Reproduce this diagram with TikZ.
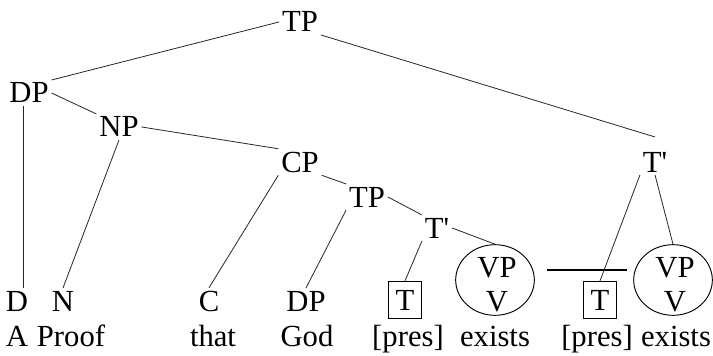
\documentclass[tikz,border=0pt]{standalone}
\usepackage{fontspec}
\setmainfont{Liberation Serif}
\usetikzlibrary{shapes.geometric}
\begin{document}
\begin{tikzpicture}[x=0.75pt,y=-0.75pt,
  lab/.style={font=\fontsize{23}{27}\selectfont, inner sep=2pt, anchor=base},
  edge/.style={line width=0.6pt, draw=black!85},
  tbox/.style={font=\fontsize{23}{27}\selectfont, draw, line width=0.7pt, minimum width=25pt, minimum height=28pt, inner sep=0pt},
  oval/.style={ellipse, draw, line width=0.7pt, minimum width=59pt, minimum height=53pt, inner sep=0pt}]
\useasboundingbox (0,0) rectangle (713,356);
% internal nodes
\node[lab] (TPa) at (300,32) {TP};
\node[lab] (DPa) at (29,103) {DP};
\node[lab] (NP) at (119,137) {NP};
\node[lab] (CP) at (300,172) {CP};
\node[lab] (TPb) at (367,207) {TP};
\node[lab] (Tba) at (437,238) {T\textquotesingle};
\node[lab] (Tbb) at (655,172) {T\textquotesingle};
% leaves row 1
\node[lab] (D) at (17,311) {D};
\node[lab] (N) at (63,311) {N};
\node[lab] (C) at (209,311) {C};
\node[lab] (DPc) at (306,311) {DP};
\node[tbox] (Ta) at (405,300) {T};
\node[tbox] (Tb) at (600,300) {T};
\node[oval] (Oa) at (495,280) {};
\node[oval] (Ob) at (673,280) {};
\node[lab] (VPa) at (497,277) {VP};
\node[lab] (Va) at (497,311) {V};
\node[lab] (VPb) at (675,277) {VP};
\node[lab] (Vb) at (675,311) {V};
% words
\node[lab] (wA) at (17,346) {A};
\node[lab] (wProof) at (71,346) {Proof};
\node[lab] (wthat) at (213,346) {that};
\node[lab] (wGod) at (307,346) {God};
\node[lab] (wpa) at (408,346) {[pres]};
\node[lab] (wea) at (495,346) {exists};
\node[lab] (wpb) at (597,346) {[pres]};
\node[lab] (web) at (676,346) {exists};
% connectors
\draw[edge] (TPa.west) -- (DPa.north east);
\draw[edge] (TPa.south east) -- ([yshift=9pt]Tbb.north);
\draw[edge] (DPa.east) -- (NP.north west);
\draw[edge] ([xshift=4.5pt]D.north) -- ([xshift=4.5pt]D.north |- DPa.south);
\draw[edge] (NP.south) -- (N.north);
\draw[edge] (NP.east) -- (CP.north west);
\draw[edge] (CP.south west) -- (C.north);
\draw[edge] (CP.south east) -- (TPb.north west);
\draw[edge] (TPb.south west) -- (DPc.north);
\draw[edge] (TPb.east) -- (Tba.north west);
\draw[edge] (Tba.south west) -- (Ta.north);
\draw[edge] (Tba.east) -- (Oa.north);
\draw[edge] (Tbb.south west) -- (Tb.north);
\draw[edge] (Tbb.south) -- (Ob.north);
\coordinate (h1) at (547,270);
\coordinate (h2) at (627,270);
\draw[line width=1pt] (h1) -- (h2);
\end{tikzpicture}
\end{document}
